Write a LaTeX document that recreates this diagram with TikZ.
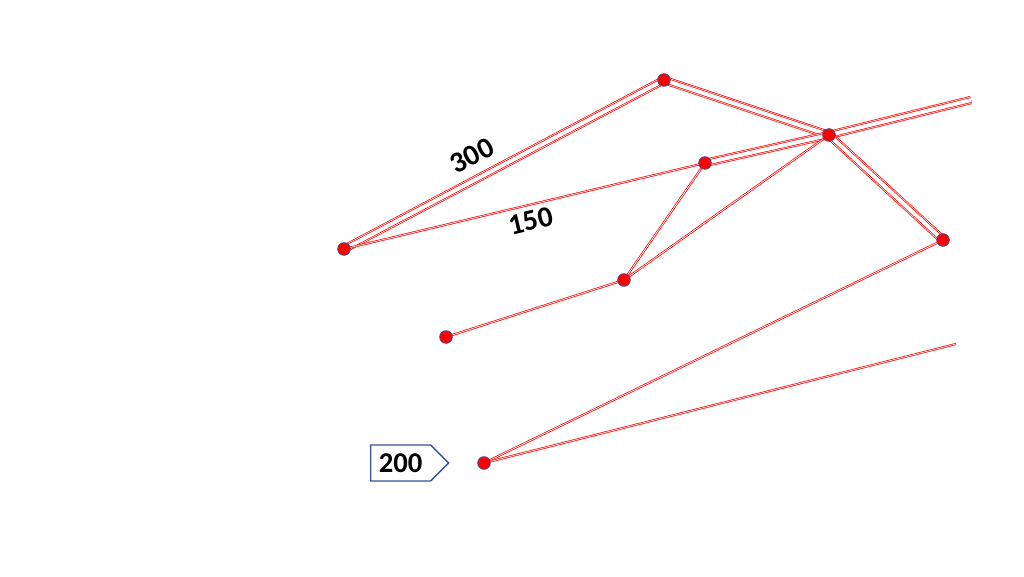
\documentclass[tikz,border=0pt]{standalone}
\usepackage{fontspec}
\setmainfont{Carlito}
\usetikzlibrary{shapes.symbols}
\definecolor{dotedge}{HTML}{3F4F8F}
\definecolor{tagblue}{HTML}{2F5597}
\tikzset{
  dot/.style={circle, fill=red, draw=dotedge, line width=0.6pt, inner sep=0pt, minimum size=9.5pt},
  wire/.style={draw=red, line width=0.55pt, double=white, double distance=0.5pt},
  pair/.style={draw=red, line width=6.2pt,
    postaction={draw=white, line width=5.1pt},
    postaction={draw=red, line width=4.1pt},
    postaction={draw=white, line width=3pt}},
  len/.style={font=\bfseries\fontsize{22}{24}\selectfont, inner sep=0pt}
}
\begin{document}
\begin{tikzpicture}[x=0.75pt,y=-0.75pt]
\useasboundingbox (0,0) rectangle (1024,576);

\coordinate (a) at (344,249);
\coordinate (b) at (664,80);
\coordinate (c) at (705,163);
\coordinate (d) at (829,135);
\coordinate (e) at (943,240);
\coordinate (f) at (624,280);
\coordinate (g) at (446,337);
\coordinate (h) at (484,463);
\coordinate (dout) at (971,100);
\coordinate (hout) at (956,344);

% paired lines
\path[pair] (a) -- (b);
\path[pair] (b) -- (d);
\path[pair] (c) -- (d);
\path[pair] (d) -- (dout);
\path[pair] (d) -- (e);

% single lines
\path[wire] (a) -- (c);
\path[wire] (c) -- (f);
\path[wire] (d) -- (f);
\path[wire] (f) -- (g);
\path[wire] (e) -- (h);
\path[wire] (h) -- (hout);

\foreach \p in {a,b,c,d,e,f,g,h}
  \node[dot] (\p dot) at (\p) {};

\node[len, rotate=27.8] (lab300) at (472,156) {300};
\node[len, rotate=13.4] (lab150) at (531,221) {150};

\node[signal, signal to=east, draw=tagblue, line width=1pt,
  font=\bfseries\fontsize{21.5}{23}\selectfont, inner xsep=4pt, inner ysep=3pt,
  minimum height=27pt, minimum width=58.5pt, anchor=west] (tag200) at (370,463) {200};
\end{tikzpicture}
\end{document}
